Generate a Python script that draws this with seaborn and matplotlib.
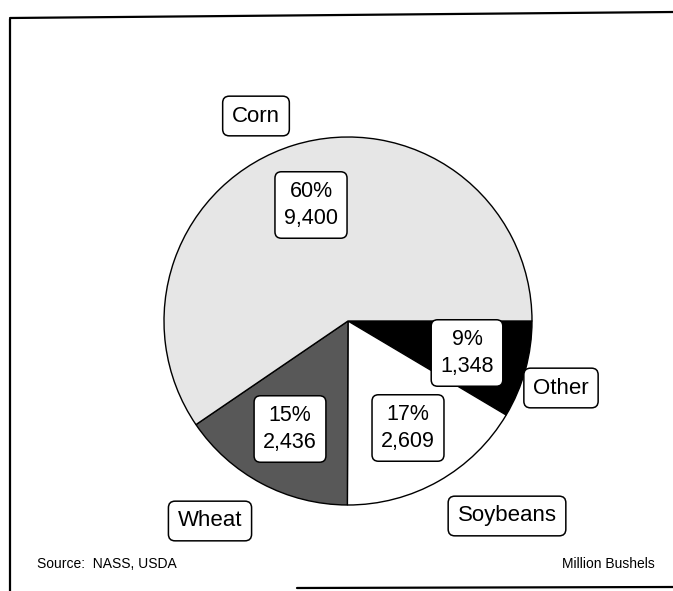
import matplotlib
matplotlib.use("Agg")
import matplotlib.pyplot as plt
import seaborn as sns

# clockwise from 3 o'clock
crops = ["Other", "Soybeans", "Wheat", "Corn"]
bushels = [1348, 2609, 2436, 9400]
pct_labels = ["9%", "17%", "15%", "60%"]
value_labels = ["1,348", "2,609", "2,436", "9,400"]

sns.set_theme(style="white")
plt.rcParams["font.family"] = ["Liberation Sans", "DejaVu Sans"]
plt.rcParams["text.color"] = "black"

colors = ["black", "white", "#585858", "#e6e6e6"]

W, H = 673, 591
fig = plt.figure(figsize=(W / 100, H / 100), dpi=100)
ax = fig.add_axes([0, 0, 1, 1])
ax.axis("off")

ax.pie(bushels, colors=colors, startangle=0, counterclock=False,
       center=(348, H - 321), radius=184,
       wedgeprops=dict(edgecolor="black", linewidth=1.0))
ax.set_xlim(0, W)
ax.set_ylim(0, H)

box = dict(boxstyle="round,pad=0.42,rounding_size=0.3", fc="white", ec="black", lw=1.1)

# value boxes inside slices
value_pos = [(467, 353), (408, 428), (290, 429), (311, 205)]
for (x, y), p, v in zip(value_pos, pct_labels, value_labels):
    ax.text(x, H - y, f"{p}\n{v}", ha="center", va="center", fontsize=15.5,
            linespacing=1.4, bbox=box)

# name boxes outside
name_pos = [(561, 388), (507, 516), (210, 521), (256, 116)]
for (x, y), name in zip(name_pos, crops):
    ax.text(x, H - y, name, ha="center", va="center", fontsize=16, bbox=box)

ax.text(37, H - 564, "Source:  NASS, USDA", ha="left", va="center", fontsize=10)
ax.text(655, H - 564, "Million Bushels", ha="right", va="center", fontsize=10)

# frame (scanned page border)
ax.plot([10, 10], [H - 19, 0], color="black", lw=1.6)
ax.plot([10, W], [H - 18, H - 12], color="black", lw=1.6)
ax.plot([297, W], [H - 588, H - 587], color="black", lw=1.6)

fig.savefig("out.png", dpi=100)
